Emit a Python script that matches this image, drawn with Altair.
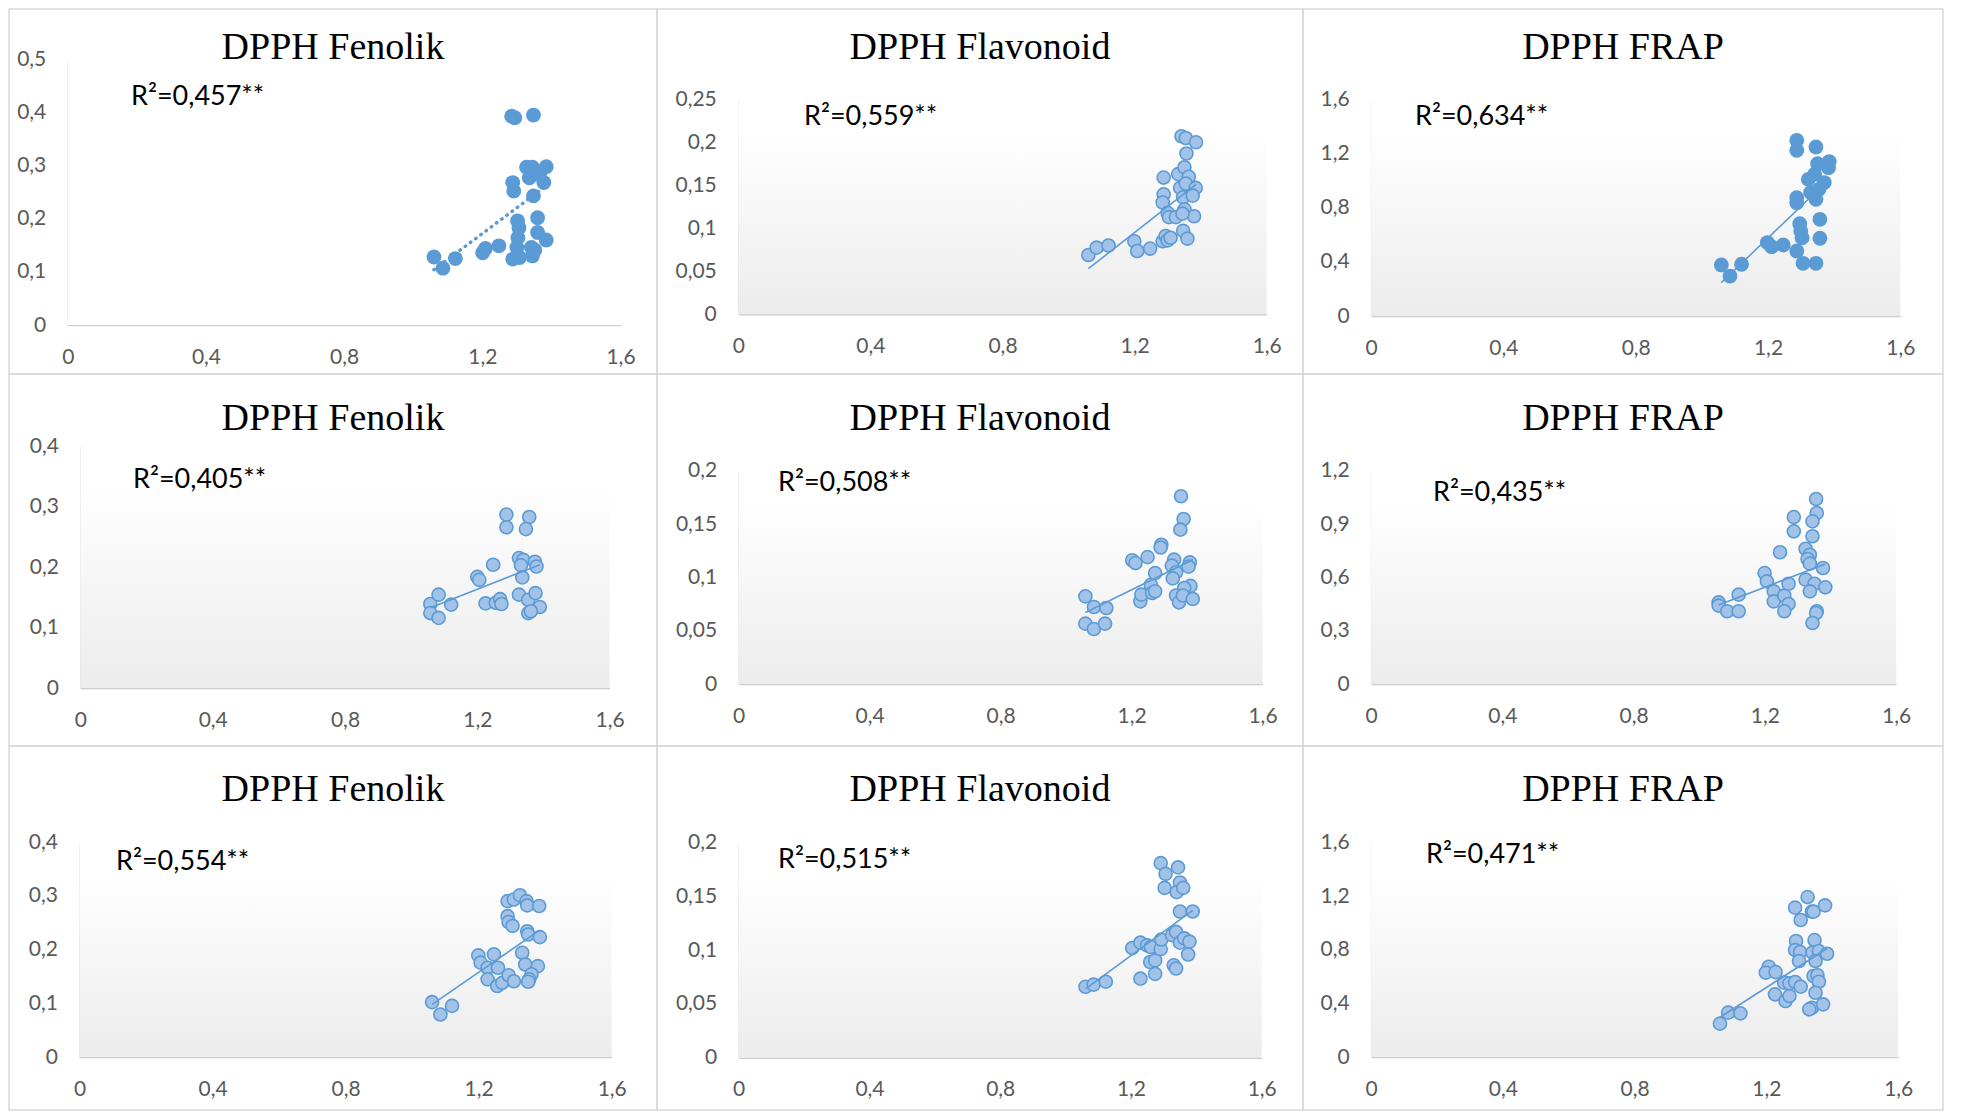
import altair as alt
import pandas as pd

# ---------------- data ----------------
titles = ["DPPH Fenolik", "DPPH Flavonoid", "DPPH FRAP",
          "DPPH Fenolik", "DPPH Flavonoid", "DPPH FRAP",
          "DPPH Fenolik", "DPPH Flavonoid", "DPPH FRAP"]
r2_labels = ["R²=0,457**", "R²=0,559**", "R²=0,634**",
             "R²=0,405**", "R²=0,508**", "R²=0,435**",
             "R²=0,554**", "R²=0,515**", "R²=0,471**"]
x_ticks = [0, 0.4, 0.8, 1.2, 1.6]
y_ticks = [
    [0, 0.1, 0.2, 0.3, 0.4, 0.5],
    [0, 0.05, 0.1, 0.15, 0.2, 0.25],
    [0, 0.4, 0.8, 1.2, 1.6],
    [0, 0.1, 0.2, 0.3, 0.4],
    [0, 0.05, 0.1, 0.15, 0.2],
    [0, 0.3, 0.6, 0.9, 1.2],
    [0, 0.1, 0.2, 0.3, 0.4],
    [0, 0.05, 0.1, 0.15, 0.2],
    [0, 0.4, 0.8, 1.2, 1.6],
]

p1_x = [1.060, 1.086, 1.122, 1.201, 1.209, 1.248, 1.285, 1.294, 1.348, 1.288, 1.291, 1.328, 1.345, 1.385, 1.336,
        1.366, 1.378, 1.348, 1.360, 1.302, 1.306, 1.303, 1.360, 1.385, 1.300, 1.342, 1.288, 1.308, 1.345, 1.352]
p1_y = [0.128, 0.107, 0.125, 0.136, 0.144, 0.149, 0.393, 0.390, 0.395, 0.268, 0.252, 0.297, 0.297, 0.298, 0.277,
        0.284, 0.268, 0.243, 0.202, 0.196, 0.183, 0.164, 0.174, 0.160, 0.146, 0.146, 0.124, 0.127, 0.130, 0.141]

p2_x = [1.060, 1.085, 1.121, 1.199, 1.208, 1.247, 1.285, 1.294, 1.300, 1.309, 1.347, 1.360, 1.288, 1.288, 1.285,
        1.300, 1.304, 1.325, 1.332, 1.342, 1.355, 1.386, 1.357, 1.351, 1.364, 1.338, 1.355, 1.385, 1.347, 1.376,
        1.351, 1.380, 1.345]
p2_y = [0.069, 0.0775, 0.080, 0.085, 0.0736, 0.0764, 0.085, 0.091, 0.086, 0.089, 0.097, 0.088, 0.159, 0.1395, 0.130,
        0.118, 0.113, 0.113, 0.163, 0.207, 0.205, 0.200, 0.187, 0.171, 0.160, 0.147, 0.152, 0.147, 0.136, 0.138,
        0.122, 0.114, 0.117]

p3_x = [1.059, 1.085, 1.120, 1.198, 1.211, 1.246, 1.287, 1.287, 1.345, 1.287, 1.287, 1.322, 1.341, 1.350, 1.385,
        1.383, 1.370, 1.354, 1.345, 1.329, 1.357, 1.296, 1.299, 1.303, 1.357, 1.287, 1.306, 1.345]
p3_y = [0.377, 0.295, 0.382, 0.542, 0.512, 0.524, 1.297, 1.223, 1.248, 0.874, 0.837, 1.009, 1.046, 1.125, 1.140,
        1.095, 0.985, 0.935, 0.862, 0.911, 0.714, 0.682, 0.628, 0.578, 0.574, 0.480, 0.389, 0.389]

p4_x = [1.058, 1.058, 1.083, 1.083, 1.121, 1.200, 1.206, 1.248, 1.225, 1.256, 1.269, 1.273, 1.288, 1.288, 1.357,
        1.347, 1.326, 1.339, 1.332, 1.374, 1.379, 1.336, 1.326, 1.354, 1.376, 1.389, 1.354, 1.362]
p4_y = [0.139, 0.124, 0.116, 0.1545, 0.138, 0.184, 0.179, 0.204, 0.140, 0.141, 0.147, 0.139, 0.287, 0.266, 0.283,
        0.263, 0.215, 0.212, 0.203, 0.209, 0.201, 0.183, 0.1545, 0.146, 0.157, 0.134, 0.124, 0.127]

p5_x = [1.059, 1.085, 1.123, 1.059, 1.085, 1.119, 1.202, 1.212, 1.249, 1.227, 1.230, 1.259, 1.263, 1.272, 1.272,
        1.291, 1.289, 1.351, 1.359, 1.349, 1.330, 1.323, 1.336, 1.326, 1.378, 1.374, 1.380, 1.361, 1.336, 1.345,
        1.357, 1.387]
p5_y = [0.0822, 0.0722, 0.0713, 0.0566, 0.0516, 0.0566, 0.116, 0.1134, 0.119, 0.0775, 0.0838, 0.093, 0.0853, 0.0869,
        0.104, 0.1306, 0.128, 0.176, 0.1547, 0.1447, 0.1166, 0.111, 0.1047, 0.099, 0.114, 0.110, 0.092, 0.090,
        0.083, 0.0766, 0.083, 0.0797]

p6_x = [1.059, 1.059, 1.085, 1.120, 1.120, 1.199, 1.206, 1.246, 1.227, 1.227, 1.259, 1.272, 1.259, 1.272, 1.288,
        1.288, 1.356, 1.358, 1.345, 1.345, 1.324, 1.337, 1.330, 1.337, 1.377, 1.324, 1.351, 1.337, 1.384, 1.358,
        1.356, 1.345]
p6_y = [0.459, 0.441, 0.409, 0.409, 0.5025, 0.624, 0.5775, 0.741, 0.521, 0.465, 0.497, 0.450, 0.409, 0.564, 0.939,
        0.859, 1.041, 0.962, 0.915, 0.831, 0.761, 0.727, 0.703, 0.677, 0.6525, 0.587, 0.564, 0.521, 0.544, 0.409,
        0.399, 0.343]

p7_x = [1.060, 1.085, 1.120, 1.199, 1.206, 1.246, 1.227, 1.258, 1.227, 1.256, 1.271, 1.290, 1.306, 1.287, 1.306,
        1.324, 1.344, 1.346, 1.382, 1.287, 1.290, 1.302, 1.346, 1.349, 1.384, 1.331, 1.340, 1.378, 1.359, 1.352,
        1.349]
p7_y = [0.102, 0.079, 0.095, 0.189, 0.1755, 0.191, 0.166, 0.166, 0.1445, 0.132, 0.138, 0.152, 0.141, 0.290, 0.293,
        0.301, 0.290, 0.282, 0.281, 0.262, 0.251, 0.244, 0.234, 0.228, 0.223, 0.194, 0.172, 0.169, 0.154, 0.1445,
        0.140]

p8_x = [1.061, 1.086, 1.123, 1.204, 1.229, 1.229, 1.249, 1.261, 1.259, 1.274, 1.274, 1.291, 1.306, 1.303, 1.344,
        1.350, 1.340, 1.360, 1.350, 1.389, 1.291, 1.293, 1.326, 1.338, 1.350, 1.363, 1.379, 1.375, 1.331, 1.338]
p8_y = [0.066, 0.068, 0.0707, 0.102, 0.107, 0.0735, 0.1045, 0.103, 0.089, 0.0905, 0.078, 0.181, 0.171, 0.158, 0.177,
        0.163, 0.154, 0.158, 0.136, 0.136, 0.101, 0.110, 0.114, 0.117, 0.107, 0.111, 0.108, 0.096, 0.086, 0.083]

p9_x = [1.059, 1.084, 1.121, 1.207, 1.198, 1.228, 1.226, 1.258, 1.270, 1.254, 1.270, 1.287, 1.304, 1.287, 1.325,
        1.304, 1.338, 1.343, 1.378, 1.290, 1.287, 1.302, 1.299, 1.346, 1.340, 1.359, 1.384, 1.349, 1.343, 1.355,
        1.359, 1.349, 1.338, 1.330, 1.372]
p9_y = [0.249, 0.331, 0.326, 0.674, 0.630, 0.634, 0.468, 0.418, 0.455, 0.555, 0.550, 0.560, 0.525, 1.115, 1.194,
        1.023, 1.085, 1.085, 1.132, 0.866, 0.799, 0.784, 0.717, 0.873, 0.779, 0.791, 0.771, 0.717, 0.605, 0.610,
        0.562, 0.480, 0.368, 0.356, 0.393]

# linear trend lines (start / end)
trend_x = [[1.060, 1.385], [1.060, 1.386], [1.059, 1.385],
           [1.058, 1.389], [1.059, 1.387], [1.059, 1.384],
           [1.060, 1.384], [1.061, 1.389], [1.059, 1.384]]
trend_y = [[0.104, 0.262], [0.053, 0.151], [0.246, 1.010],
           [0.133, 0.204], [0.067, 0.1165], [0.445, 0.675],
           [0.098, 0.236], [0.064, 0.137], [0.297, 0.810]]

points_x = [p1_x, p2_x, p3_x, p4_x, p5_x, p6_x, p7_x, p8_x, p9_x]
points_y = [p1_y, p2_y, p3_y, p4_y, p5_y, p6_y, p7_y, p8_y, p9_y]

# ---------------- layout / style (pixels inside each panel cell) ----------------
layout = [
    dict(w=648, h=365, left=58.8, right=611.5, y0=316.0, ytop=50.3, lx=122, ly=96, tb=50),
    dict(w=646, h=365, left=81.3, right=609.7, y0=305.3, ytop=90.3, lx=147, ly=116, tb=50),
    dict(w=640, h=365, left=68.1, right=597.3, y0=307.0, ytop=90.3, lx=112, ly=116, tb=50),
    dict(w=648, h=372, left=71.4, right=600.6, y0=314.0, ytop=72.3, lx=124, ly=114, tb=56),
    dict(w=646, h=372, left=81.7, right=605.5, y0=310.0, ytop=96.7, lx=121, ly=117, tb=56),
    dict(w=640, h=372, left=68.1, right=593.2, y0=310.0, ytop=96.7, lx=130, ly=127, tb=56),
    dict(w=648, h=364, left=70.5, right=602.7, y0=311.0, ytop=96.0, lx=107, ly=124, tb=55),
    dict(w=646, h=364, left=81.7, right=604.7, y0=311.7, ytop=96.7, lx=121, ly=122, tb=55),
    dict(w=640, h=364, left=68.1, right=595.2, y0=311.0, ytop=96.7, lx=123, ly=117, tb=55),
]
solid_markers = [True, False, True, False, False, False, False, False, False]
gradient_bg = [False, True, True, True, True, True, True, True, True]
dotted_trend = [True, False, False, False, False, False, False, False, False]

BLUE = "#5B9BD5"
LIGHT = "#A2C2E8"
LABEL_FONT = "Lato"
LABEL_EXPR = "replace(toString(datum.value), '.', ',')"

bg_gradient = alt.LinearGradient(
    gradient="linear", x1=0, x2=0, y1=0, y2=1,
    stops=[alt.GradientStop(color="#ffffff", offset=0),
           alt.GradientStop(color="#ffffff", offset=0.15),
           alt.GradientStop(color="#ececec", offset=1)])


def make_panel(i):
    lay = layout[i]
    ymax = y_ticks[i][-1]
    xs = alt.Scale(domain=[0, 1.6], range=[lay["left"], lay["right"]], nice=False, zero=False)
    ys = alt.Scale(domain=[0, ymax], range=[lay["y0"], lay["ytop"]], nice=False, zero=False)
    xaxis = alt.Axis(values=x_ticks, labelExpr=LABEL_EXPR, ticks=False, tickSize=0, grid=False,
                     offset=lay["y0"] - lay["h"], labelPadding=32, labelBaseline="middle",
                     labelFlush=False, labelOverlap=False, title=None,
                     domainColor="#cccccc", domainWidth=1.5,
                     labelFont=LABEL_FONT, labelFontSize=21, labelColor="#595959")
    yaxis = alt.Axis(values=y_ticks[i], labelExpr=LABEL_EXPR, ticks=False, tickSize=0, grid=False,
                     offset=-lay["left"], labelPadding=22, labelFlush=False, labelOverlap=False,
                     title=None, domainColor="#d9d9d9", domainWidth=1.5,
                     labelFont=LABEL_FONT, labelFontSize=21, labelColor="#595959")

    layers = []
    bg_df = pd.DataFrame({"bx0": [0], "bx1": [1.6], "by0": [0], "by1": [ymax]})
    bg_color = bg_gradient if gradient_bg[i] else "#ffffff"
    layers.append(
        alt.Chart(bg_df).mark_rect(color=bg_color).encode(
            x=alt.X("bx0:Q", scale=xs, axis=xaxis), x2="bx1:Q",
            y=alt.Y("by0:Q", scale=ys, axis=yaxis), y2="by1:Q"))

    pts = pd.DataFrame({"x": points_x[i], "y": points_y[i]})
    if solid_markers[i]:
        pmark = alt.Chart(pts).mark_circle(size=220, color=BLUE, opacity=1)
    else:
        pmark = alt.Chart(pts).mark_circle(size=170, fill=LIGHT, fillOpacity=1, opacity=1,
                                           stroke=BLUE, strokeWidth=1.6)
    layers.append(pmark.encode(x=alt.X("x:Q", scale=xs, axis=xaxis),
                               y=alt.Y("y:Q", scale=ys, axis=yaxis)))

    tr = pd.DataFrame({"x": trend_x[i], "y": trend_y[i]})
    if dotted_trend[i]:
        lmark = alt.Chart(tr).mark_line(color=BLUE, strokeWidth=3.5, strokeDash=[0.5, 6], strokeCap="round")
    else:
        lmark = alt.Chart(tr).mark_line(color=BLUE, strokeWidth=1.6)
    layers.append(lmark.encode(x=alt.X("x:Q", scale=xs, axis=xaxis),
                               y=alt.Y("y:Q", scale=ys, axis=yaxis)))

    lab = pd.DataFrame({"label": [r2_labels[i]], "title": [titles[i]]})
    layers.append(
        alt.Chart(lab).mark_text(align="left", baseline="alphabetic", font=LABEL_FONT,
                                 fontSize=27, color="#000000").encode(
            x=alt.value(lay["lx"]), y=alt.value(lay["ly"]), text="label:N"))
    layers.append(
        alt.Chart(lab).mark_text(align="center", baseline="alphabetic", font="Liberation Serif",
                                 fontSize=38, color="#000000").encode(
            x=alt.value(lay["w"] / 2), y=alt.value(lay["tb"]), text="title:N"))

    return alt.layer(*layers).properties(width=lay["w"], height=lay["h"])


panels = [make_panel(i) for i in range(9)]

chart = alt.concat(*panels, columns=3, spacing=0, bounds="flush", align="each", padding=0).configure_view(
    stroke="#d9d9d9", strokeWidth=1.5)

chart.save("out.html", embed_options={"renderer": "svg", "actions": False})
